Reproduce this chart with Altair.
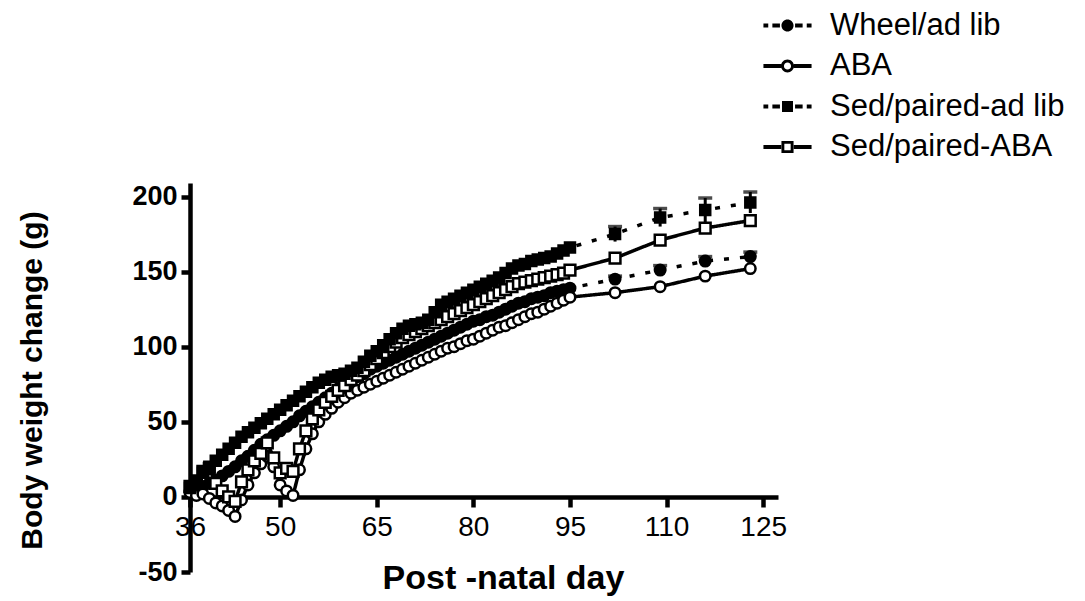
import altair as alt
import pandas as pd

groups = ["Wheel/ad lib", "ABA", "Sed/paired-ad lib", "\u00a0Sed/paired-ABA"]
days = list(range(36, 96)) + [102, 109, 116, 123]

wheel = [4, 6, 7, 9, 11, 14, 17, 20, 24, 27,
         31, 35, 38, 41, 44, 47, 50, 54, 57, 60,
         63, 66, 69, 72, 75, 77, 80, 82, 85, 87,
         89, 91, 93, 95, 97, 99, 101, 103, 105, 107,
         109, 111, 113, 115, 117, 118, 120, 121, 123, 125,
         127, 129, 130, 132, 133, 134, 136, 137, 138, 139,
         145, 151, 157, 160]
aba = [3, 1, 2, -1, -4, -6, -9, -13, -2, 8,
       16, 22, 27, 20, 8, 4, 1, 18, 32, 42,
       50, 55, 59, 63, 66, 69, 71, 73, 75, 77,
       79, 81, 83, 85, 87, 89, 91, 93, 95, 97,
       99, 100, 102, 104, 105, 107, 109, 111, 113, 114,
       116, 118, 120, 122, 123, 125, 127, 129, 131, 133,
       136, 140, 147, 152]
sed_adlib = [6, 11, 16, 20, 24, 28, 32, 36, 40, 43,
             46, 49, 52, 55, 58, 61, 64, 67, 70, 73,
             76, 78, 80, 81, 82, 84, 86, 90, 94, 97,
             101, 105, 109, 112, 114, 115, 116, 118, 123, 128,
             130, 132, 134, 136, 138, 140, 142, 144, 146, 149,
             152, 154, 155, 157, 158, 159, 160, 162, 164, 166,
             175, 186, 191, 196]
sed_aba = [7, 10, 17, 19, 9, 4, 0, -3, 10, 18,
           24, 29, 36, 26, 16, 19, 17, 32, 44, 52,
           58, 63, 67, 71, 74, 78, 81, 84, 88, 92,
           96, 100, 103, 106, 108, 110, 112, 114, 116, 118,
           120, 122, 124, 126, 128, 130, 132, 134, 136, 138,
           140, 142, 143, 144, 145, 146, 147, 148, 149, 151,
           159, 171, 179, 184]

err_days = [102, 109, 116, 123]
sed_adlib_err = [5, 6, 8, 7]
wheel_err = [2, 3, 3, 3]

series = [wheel, aba, sed_adlib, sed_aba]
rows = []
for g, vals in zip(groups, series):
    for d, v in zip(days, vals):
        rows.append({"group": g, "day": d, "value": v})
df = pd.DataFrame(rows)

err_rows = []
for g, vals, errs in [(groups[2], sed_adlib, sed_adlib_err), (groups[0], wheel, wheel_err)]:
    for d, e in zip(err_days, errs):
        v = vals[days.index(d)]
        err_rows.append({"group": g, "day": d, "lo": v - e, "hi": v + e})
df_err = pd.DataFrame(err_rows)

FONT = "Liberation Sans"
W, H = 588, 389

x_scale = alt.Scale(domain=[36, 127.3], nice=False, zero=False)
y_scale = alt.Scale(domain=[-50, 209], nice=False, zero=False)

x_axis = alt.Axis(values=[36, 50, 65, 80, 95, 110, 125], offset=-75, grid=False,
                  tickSize=10, tickWidth=4.5, tickColor="black",
                  domainWidth=4.5, domainColor="black",
                  labelFont=FONT, labelFontSize=28, labelColor="black", labelPadding=6,
                  labelFlush=False,
                  title="Post -natal day", titleFont=FONT, titleFontSize=34,
                  titleFontWeight="bold", titleColor="black",
                  titleX=313, titleY=81, titleBaseline="middle")
y_axis = alt.Axis(values=[-50, 0, 50, 100, 150, 200], grid=False,
                  tickSize=9, tickWidth=4.5, tickColor="black",
                  domainWidth=4.5, domainColor="black",
                  labelFont=FONT, labelFontSize=27, labelFontWeight="bold",
                  labelColor="black", labelPadding=4, labelFlush=False,
                  labelExpr="'' + datum.value",
                  title="Body weight change (g)", titleFont=FONT, titleFontSize=30,
                  titleFontWeight="bold", titleColor="black",
                  titleX=-158, titleY=197, titleBaseline="middle")

X = alt.X("day:Q", scale=x_scale, axis=x_axis)
Y = alt.Y("value:Q", scale=y_scale, axis=y_axis)

dash_style = {groups[0]: [5, 11], groups[1]: [1, 0], groups[2]: [5, 11], groups[3]: [1, 0]}
line_layers = []
for i, g in enumerate(groups):
    enc = dict(x=X, y=Y) if i == 0 else dict(x="day:Q", y="value:Q")
    line_layers.append(
        alt.Chart(df).transform_filter(alt.datum.group == g).mark_line(
            color="black", strokeWidth=3.5, strokeCap="butt",
            strokeDash=dash_style[g]).encode(**enc))

err_rule = alt.Chart(df_err).mark_rule(color="black", strokeWidth=3).encode(
    x="day:Q", y="lo:Q", y2="hi:Q")
err_cap = alt.Chart(df_err).mark_tick(color="black", orient="horizontal",
                                      size=14, thickness=3.5).encode(x="day:Q", y="hi:Q")

marker_style = {
    groups[0]: ("circle", "black", 110),
    groups[1]: ("circle", "white", 110),
    groups[2]: ("square", "black", 100),
    groups[3]: ("square", "white", 115),
}
point_layers = []
for g in [groups[0], groups[1], groups[3], groups[2]]:
    shp, fill, size = marker_style[g]
    point_layers.append(
        alt.Chart(df).transform_filter(alt.datum.group == g).mark_point(
            shape=shp, filled=True, fill=fill, stroke="black", strokeWidth=2.5,
            size=size, opacity=1).encode(x="day:Q", y="value:Q"))

# legend glyphs (fill only): line pieces as thin bars, open markers as rings
def bar(a, b, h=0.145):
    return f"M{a},{-h}H{b}V{h}H{a}Z"

def disc_cw(r):
    return f"M{-r},0A{r},{r},0,1,1,{r},0A{r},{r},0,1,1,{-r},0Z"

def disc_ccw(r):
    return f"M{-r},0A{r},{r},0,1,0,{r},0A{r},{r},0,1,0,{-r},0Z"

def square_cw(a):
    return f"M{-a},{-a}H{a}V{a}H{-a}Z"

def square_ccw(a):
    return f"M{-a},{-a}V{a}H{a}V{-a}Z"

dashes = bar(-1.75, -1.4) + bar(-1.1, -0.55) + bar(0.55, 1.1) + bar(1.4, 1.75)
solid = bar(-1.75, -0.46) + bar(0.46, 1.75)
p_dash_circle = dashes + disc_cw(0.44)
p_solid_circle = solid + disc_cw(0.47) + disc_ccw(0.26)
p_dash_square = dashes + square_cw(0.4)
p_solid_square = solid + square_cw(0.44) + square_ccw(0.23)

leg = alt.Legend(title=None, orient="none", legendX=582, legendY=-173,
                 labelFont=FONT, labelFontSize=31, labelColor="black", labelLimit=400,
                 symbolSize=756, symbolStrokeWidth=0, symbolFillColor="black",
                 labelOffset=27, rowPadding=8.5, padding=0)
# legend-only layer: its rows sit outside the x domain and are clipped away
legend_df = pd.DataFrame({"group": groups, "day": [-100] * 4, "value": [0] * 4})
legend_layer = alt.Chart(legend_df).mark_point(
    filled=True, color="black", strokeWidth=0, size=756, opacity=1, clip=True).encode(
    x="day:Q", y="value:Q",
    shape=alt.Shape("group:N", scale=alt.Scale(domain=groups,
                    range=[p_dash_circle, p_solid_circle, p_dash_square, p_solid_square]),
                    legend=leg),
)

chart = alt.layer(*line_layers, err_rule, err_cap, *point_layers, legend_layer).properties(
    width=W, height=H,
    autosize=alt.AutoSizeParams(type="none"),
    padding={"left": 190, "top": 183, "right": 1085 - 190 - W, "bottom": 601 - 183 - H},
    background="white",
).configure_view(stroke=None)

chart.save("out.html", embed_options={"renderer": "svg", "actions": False})
